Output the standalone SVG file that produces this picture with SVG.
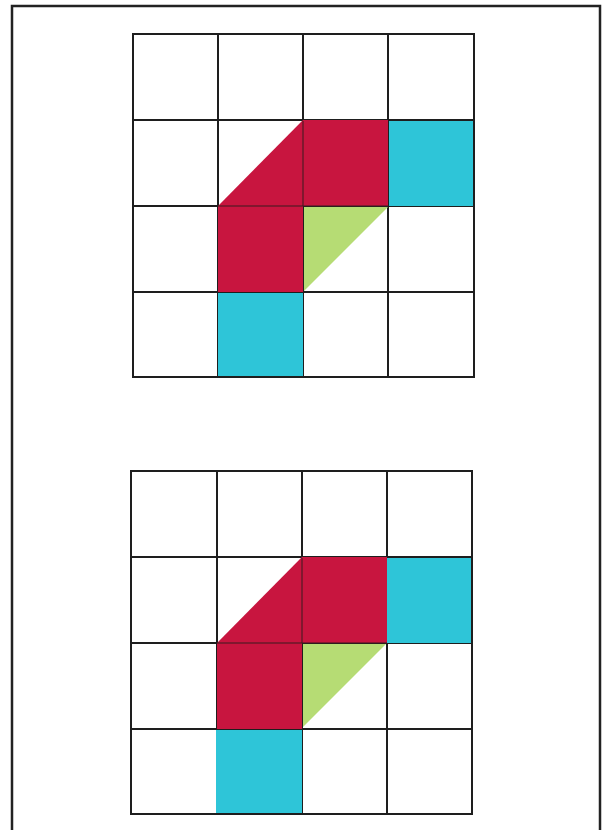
<svg xmlns="http://www.w3.org/2000/svg" width="610" height="830" viewBox="0 0 610 830">
<defs>
<style>
.grid{fill:none;stroke:#1e1e1e;stroke-width:2}
.frame{fill:none;stroke:#222;stroke-width:2.5}
.red{fill:#c8153f}
.cyan{fill:#2ec5d8}
.green{fill:#b6dc74}
.seam{stroke:#3a1a1f;stroke-width:1;fill:none}
</style>
</defs>
<rect width="610" height="830" fill="#ffffff"/>
<rect class="frame" x="12" y="6" width="588" height="840"/>

<g id="top-grid">
<path class="grid" d="M218,34V377M303,34V377M388,34V377M133,120H474M133,206H474M133,292H474"/>
<polygon class="red" points="303,120 303,206 218,206"/>
<rect class="red" x="303" y="120" width="85" height="86"/>
<rect class="red" x="218" y="206" width="85" height="86"/>
<rect class="cyan" x="389" y="121" width="85" height="85"/>
<rect class="cyan" x="218" y="293" width="85" height="84"/>
<polygon class="green" points="304,207 388,207 304,291"/>
<path class="seam" d="M303,121V206M218,206H388"/>
<rect class="grid" x="133" y="34" width="341" height="343"/>
</g>

<g id="bottom-grid">
<path class="grid" d="M217,471V814M302,471V814M387,471V814M131,557H472M131,643H472M131,729H472"/>
<polygon class="red" points="302,557 302,643 217,643"/>
<rect class="red" x="302" y="557" width="85" height="86"/>
<rect class="red" x="217" y="643" width="85" height="86"/>
<rect class="cyan" x="387" y="558" width="85" height="85"/>
<rect class="cyan" x="216" y="730" width="86" height="84"/>
<polygon class="green" points="303,644 386,644 303,727"/>
<path class="seam" d="M302,558V643M217,643H387"/>
<rect class="grid" x="131" y="471" width="341" height="343"/>
</g>
</svg>
